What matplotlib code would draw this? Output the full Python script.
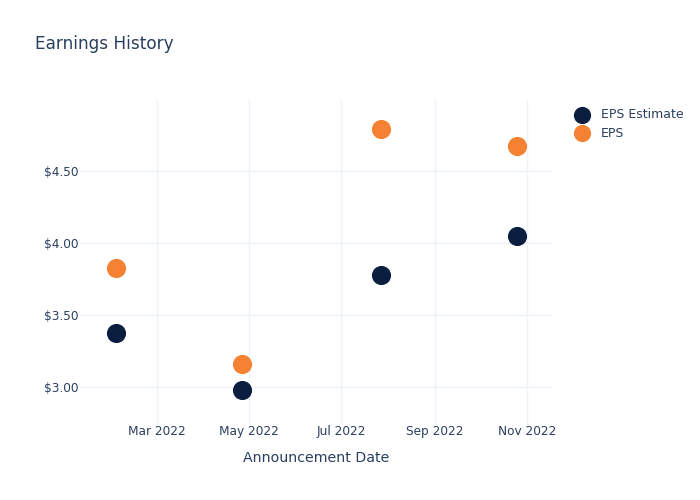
import datetime as dt
import matplotlib
matplotlib.use('Agg')
import matplotlib.pyplot as plt
import matplotlib.dates as mdates
from matplotlib.ticker import FuncFormatter

dates = [dt.date(2022, 2, 2), dt.date(2022, 4, 26), dt.date(2022, 7, 27), dt.date(2022, 10, 25)]
eps_estimate = [3.38, 2.98, 3.78, 4.05]
eps_actual = [3.83, 3.16, 4.79, 4.67]

text_color = '#2a3f5f'
grid_color = '#eef2f9'

fig = plt.figure(figsize=(7, 5), dpi=100)
ax = fig.add_axes([0.1143, 0.15, 0.6757, 0.65])

ax.scatter(dates, eps_estimate, s=190, color='#0b1e40', label='EPS Estimate', zorder=3, linewidths=0)
ax.scatter(dates, eps_actual, s=190, color='#f58233', label='EPS', zorder=3, linewidths=0)

ax.set_xlim(dt.date(2022, 1, 9), dt.date(2022, 11, 18))
ax.set_ylim(2.74, 4.99)
ax.set_yticks([3.0, 3.5, 4.0, 4.5])
ax.yaxis.set_major_formatter(FuncFormatter(lambda v, p: f'${v:.2f}'))
ax.xaxis.set_major_locator(mdates.MonthLocator(bymonth=[3, 5, 7, 9, 11]))
ax.xaxis.set_major_formatter(mdates.DateFormatter('%b %Y'))

ax.grid(True, color=grid_color, linewidth=1)
ax.set_axisbelow(True)
for s in ax.spines.values():
    s.set_visible(False)
ax.tick_params(length=0, colors=text_color, labelsize=8.7)
ax.tick_params(axis='y', pad=1)
ax.tick_params(axis='x', pad=0)

ax.set_xlabel('Announcement Date', color=text_color, fontsize=10.2, labelpad=9)
fig.text(0.05, 0.912, 'Earnings History', color=text_color, fontsize=12.2, va='center')

leg = ax.legend(loc='upper left', bbox_to_anchor=(1.035, 0.975), frameon=False, markerscale=0.9,
                fontsize=9, handletextpad=0.5, labelspacing=0.45, borderaxespad=0, borderpad=0)
for t in leg.get_texts():
    t.set_color(text_color)

fig.savefig('out.png', dpi=100)
